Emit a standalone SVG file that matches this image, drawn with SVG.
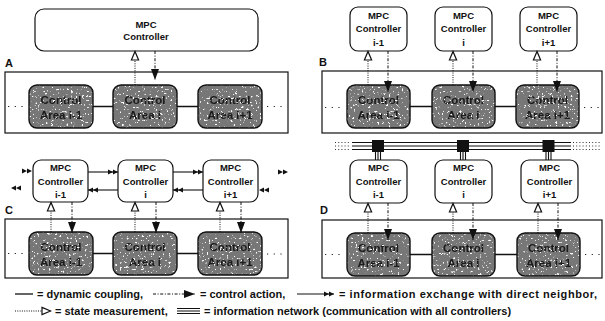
<svg xmlns="http://www.w3.org/2000/svg" width="605" height="321" viewBox="0 0 605 321">
  <style>
    text { font-family: "Liberation Sans", Arial, sans-serif; font-weight: bold; fill: #111; }
    .ctrl rect { fill: #fff; stroke: #111; stroke-width: 1.2; }
    .ctrl text { font-size: 9.5px; text-anchor: middle; }
    .area-fill { fill: #777; }
    .area-edge { fill: none; stroke: #111; stroke-width: 1.4; }
    .area text { font-size: 11.5px; text-anchor: middle; fill: #1a1a1a; }
    .frame { fill: none; stroke: #111; stroke-width: 1.2; }
    .panel-label { font-size: 11px; }
    .couple { stroke: #111; stroke-width: 1.3; fill: none; }
    .dots { stroke: #222; stroke-width: 1.2; stroke-dasharray: 1.2 5.5; fill: none; }
    .meas { stroke: #111; stroke-width: 1; stroke-dasharray: 1 1.3; fill: none; marker-end: url(#m-meas); }
    .act { stroke: #111; stroke-width: 1; stroke-dasharray: 3 1.6 1 1.6; fill: none; marker-end: url(#m-act); }
    .xchg { stroke: #111; stroke-width: 1.1; fill: none; marker-end: url(#m-dbl); }
    .net { stroke: #111; stroke-width: 1.1; fill: none; }
    .net-dot { stroke: #333; stroke-width: 1.1; stroke-dasharray: 1 2.2; fill: none; }
    .legend { font-size: 11px; }
  </style>
  <defs>
    <marker id="m-act" markerUnits="userSpaceOnUse" viewBox="0 -5 12 10" markerWidth="12" markerHeight="10" refX="11" refY="0" orient="auto">
      <path d="M0,-4 L11,0 L0,4 Z" fill="#111"/>
    </marker>
    <marker id="m-meas" markerUnits="userSpaceOnUse" viewBox="0 -5 11 10" markerWidth="11" markerHeight="10" refX="10" refY="0" orient="auto">
      <path d="M1,-3.6 L9.6,0 L1,3.6 Z" fill="#fff" stroke="#111" stroke-width="1.2"/>
    </marker>
    <marker id="m-dbl" markerUnits="userSpaceOnUse" viewBox="0 -3 10 6" markerWidth="10" markerHeight="6" refX="10" refY="0" orient="auto">
      <path d="M0,-2.6 L5,0 L0,2.6 Z M5,-2.6 L10,0 L5,2.6 Z" fill="#111"/>
    </marker>
    <path id="dbl" d="M-10,-2.6 L-5,0 L-10,2.6 Z M-5,-2.6 L0,0 L-5,2.6 Z" fill="#111"/>
    <!-- white speckle texture for the control-area blocks -->
    <filter id="grain" x="0" y="0" width="1" height="1">
      <feTurbulence type="fractalNoise" baseFrequency="0.45" numOctaves="2" seed="11" result="noise"/>
      <feColorMatrix in="noise" type="matrix" values="0 0 0 0 1  0 0 0 0 1  0 0 0 0 1  10 0 0 0 -6.5" result="spots"/>
      <feComposite in="spots" in2="SourceAlpha" operator="in" result="clipped"/>
      <feMerge><feMergeNode in="SourceGraphic"/><feMergeNode in="clipped"/></feMerge>
    </filter>
  </defs>

  <!-- ===== Panel A: centralized ===== -->
  <text class="panel-label" x="5" y="67">A</text>
  <rect class="frame" x="5" y="72" width="283" height="61"/>
  <g id="a-ctrl" class="ctrl">
    <rect x="35" y="9" width="223" height="42" rx="9"/>
    <text x="146" y="28">MPC</text>
    <text x="146" y="40">Controller</text>
  </g>
  <g id="a-area-im1" class="area">
    <g filter="url(#grain)"><rect class="area-fill" x="29" y="85" width="64" height="43" rx="8"/><text x="61" y="104">Control</text><text x="61" y="119">Area i-1</text></g>
    <rect class="area-edge" x="29" y="85" width="64" height="43" rx="8"/>
  </g>
  <g id="a-area-i" class="area">
    <g filter="url(#grain)"><rect class="area-fill" x="113" y="85" width="64" height="43" rx="8"/><text x="145" y="104">Control</text><text x="145" y="119">Area i</text></g>
    <rect class="area-edge" x="113" y="85" width="64" height="43" rx="8"/>
  </g>
  <g id="a-area-ip1" class="area">
    <g filter="url(#grain)"><rect class="area-fill" x="198" y="85" width="64" height="43" rx="8"/><text x="230" y="104">Control</text><text x="230" y="119">Area i+1</text></g>
    <rect class="area-edge" x="198" y="85" width="64" height="43" rx="8"/>
  </g>

  <!-- ===== Panel B: decentralized ===== -->
  <text class="panel-label" x="319" y="66">B</text>
  <rect class="frame" x="322" y="71" width="280" height="62"/>
  <g id="b-ctrl-im1" class="ctrl">
    <rect x="350" y="7" width="57" height="44" rx="8"/>
    <text x="378.5" y="18.5">MPC</text><text x="378.5" y="32">Controller</text><text x="378.5" y="46">i-1</text>
  </g>
  <g id="b-ctrl-i" class="ctrl">
    <rect x="435" y="7" width="57" height="44" rx="8"/>
    <text x="463.5" y="18.5">MPC</text><text x="463.5" y="32">Controller</text><text x="463.5" y="46">i</text>
  </g>
  <g id="b-ctrl-ip1" class="ctrl">
    <rect x="520" y="7" width="57" height="44" rx="8"/>
    <text x="548.5" y="18.5">MPC</text><text x="548.5" y="32">Controller</text><text x="548.5" y="46">i+1</text>
  </g>
  <g id="b-area-im1" class="area">
    <g filter="url(#grain)"><rect class="area-fill" x="347" y="85" width="63" height="43" rx="8"/><text x="378.5" y="104">Control</text><text x="378.5" y="119">Area i-1</text></g>
    <rect class="area-edge" x="347" y="85" width="63" height="43" rx="8"/>
  </g>
  <g id="b-area-i" class="area">
    <g filter="url(#grain)"><rect class="area-fill" x="432" y="85" width="63" height="43" rx="8"/><text x="463.5" y="104">Control</text><text x="463.5" y="119">Area i</text></g>
    <rect class="area-edge" x="432" y="85" width="63" height="43" rx="8"/>
  </g>
  <g id="b-area-ip1" class="area">
    <g filter="url(#grain)"><rect class="area-fill" x="516" y="85" width="63" height="43" rx="8"/><text x="547.5" y="104">Control</text><text x="547.5" y="119">Area i+1</text></g>
    <rect class="area-edge" x="516" y="85" width="63" height="43" rx="8"/>
  </g>

  <!-- ===== Panel C: neighbour communication ===== -->
  <text class="panel-label" x="5" y="214">C</text>
  <rect class="frame" x="5" y="219" width="283" height="59"/>
  <g id="c-ctrl-im1" class="ctrl">
    <rect x="33" y="160" width="55" height="42" rx="8"/>
    <text x="60.5" y="171">MPC</text><text x="60.5" y="184.5">Controller</text><text x="60.5" y="198">i-1</text>
  </g>
  <g id="c-ctrl-i" class="ctrl">
    <rect x="118" y="160" width="55" height="42" rx="8"/>
    <text x="145.5" y="171">MPC</text><text x="145.5" y="184.5">Controller</text><text x="145.5" y="198">i</text>
  </g>
  <g id="c-ctrl-ip1" class="ctrl">
    <rect x="203" y="160" width="55" height="42" rx="8"/>
    <text x="230.5" y="171">MPC</text><text x="230.5" y="184.5">Controller</text><text x="230.5" y="198">i+1</text>
  </g>
  <g id="c-area-im1" class="area">
    <g filter="url(#grain)"><rect class="area-fill" x="29" y="232" width="64" height="43" rx="8"/><text x="61" y="251">Control</text><text x="61" y="266">Area i-1</text></g>
    <rect class="area-edge" x="29" y="232" width="64" height="43" rx="8"/>
  </g>
  <g id="c-area-i" class="area">
    <g filter="url(#grain)"><rect class="area-fill" x="113" y="232" width="64" height="43" rx="8"/><text x="145" y="251">Control</text><text x="145" y="266">Area i</text></g>
    <rect class="area-edge" x="113" y="232" width="64" height="43" rx="8"/>
  </g>
  <g id="c-area-ip1" class="area">
    <g filter="url(#grain)"><rect class="area-fill" x="198" y="232" width="64" height="43" rx="8"/><text x="230" y="251">Control</text><text x="230" y="266">Area i+1</text></g>
    <rect class="area-edge" x="198" y="232" width="64" height="43" rx="8"/>
  </g>

  <!-- ===== Panel D: network communication ===== -->
  <text class="panel-label" x="320" y="214">D</text>
  <rect class="frame" x="322" y="220" width="280" height="58"/>
  <g id="d-ctrl-im1" class="ctrl">
    <rect x="350" y="160" width="57" height="43" rx="8"/>
    <text x="378.5" y="171">MPC</text><text x="378.5" y="184.5">Controller</text><text x="378.5" y="198">i-1</text>
  </g>
  <g id="d-ctrl-i" class="ctrl">
    <rect x="435" y="160" width="57" height="43" rx="8"/>
    <text x="463.5" y="171">MPC</text><text x="463.5" y="184.5">Controller</text><text x="463.5" y="198">i</text>
  </g>
  <g id="d-ctrl-ip1" class="ctrl">
    <rect x="521" y="160" width="57" height="43" rx="8"/>
    <text x="549.5" y="171">MPC</text><text x="549.5" y="184.5">Controller</text><text x="549.5" y="198">i+1</text>
  </g>
  <g id="d-area-im1" class="area">
    <g filter="url(#grain)"><rect class="area-fill" x="347" y="233" width="63" height="43" rx="8"/><text x="378.5" y="252">Control</text><text x="378.5" y="267">Area i-1</text></g>
    <rect class="area-edge" x="347" y="233" width="63" height="43" rx="8"/>
  </g>
  <g id="d-area-i" class="area">
    <g filter="url(#grain)"><rect class="area-fill" x="432" y="233" width="63" height="43" rx="8"/><text x="463.5" y="252">Control</text><text x="463.5" y="267">Area i</text></g>
    <rect class="area-edge" x="432" y="233" width="63" height="43" rx="8"/>
  </g>
  <g id="d-area-ip1" class="area">
    <g filter="url(#grain)"><rect class="area-fill" x="517" y="233" width="63" height="43" rx="8"/><text x="548.5" y="252">Control</text><text x="548.5" y="267">Area i+1</text></g>
    <rect class="area-edge" x="517" y="233" width="63" height="43" rx="8"/>
  </g>

  <!-- information network bus -->
  <g id="network">
    <path class="net" d="M352,142.5 H571 M352,146 H571 M352,149.5 H571"/>
    <path class="net-dot" d="M335,142.5 H351 M335,146 H351 M335,149.5 H351 M573,142.5 H600 M573,146 H600 M573,149.5 H600"/>
    <path class="net" d="M375.5,152 V160 M378,152 V160 M380.5,152 V160 M460.5,152 V160 M463,152 V160 M465.5,152 V160 M546,152 V160 M548.5,152 V160 M551,152 V160"/>
    <rect x="372" y="140" width="12" height="12" fill="#111"/>
    <rect x="457" y="140" width="12" height="12" fill="#111"/>
    <rect x="542.5" y="140" width="12" height="12" fill="#111"/>
  </g>

  <!-- connectors -->
  <g id="connectors">
    <!-- dynamic coupling between neighbouring areas -->
    <path class="couple" d="M93,106.5 H113 M177,106.5 H198 M410,106.5 H432 M495,106.5 H516 M93,253.5 H113 M177,253.5 H198 M410,254.5 H432 M495,254.5 H517"/>
    <path class="dots" d="M8,106.5 H24 M267,106.5 H287 M325,107.5 H342 M584,107.5 H601 M8,253.5 H24 M267,254 H287 M325,254.5 H342 M585,254.5 H601"/>

    <!-- A: single controller -->
    <path class="meas" d="M135,85 V51"/>
    <path class="act" d="M155,51 V80"/>

    <!-- B -->
    <path class="meas" d="M368,85 V51"/>
    <path class="act" d="M388,51 V92"/>
    <path class="meas" d="M453,85 V51"/>
    <path class="act" d="M473,51 V92"/>
    <path class="meas" d="M537,85 V51"/>
    <path class="act" d="M557,51 V92"/>

    <!-- C -->
    <path class="meas" d="M51,232 V202"/>
    <path class="act" d="M72,202 V233"/>
    <path class="meas" d="M135,232 V202"/>
    <path class="act" d="M156,202 V233"/>
    <path class="meas" d="M220,232 V202"/>
    <path class="act" d="M241,202 V233"/>
    <path class="xchg" d="M88,172 H118"/>
    <path class="xchg" d="M173,172 H203"/>
    <path class="xchg" d="M118,190 H88"/>
    <path class="xchg" d="M203,190 H173"/>
    <use href="#dbl" transform="translate(32,171)"/>
    <use href="#dbl" transform="translate(11,188) scale(-1,1)"/>
    <use href="#dbl" transform="translate(288,172)"/>
    <use href="#dbl" transform="translate(259,190) scale(-1,1)"/>

    <!-- D -->
    <path class="meas" d="M368,233 V203"/>
    <path class="act" d="M388,203 V240"/>
    <path class="meas" d="M453,233 V203"/>
    <path class="act" d="M473,203 V240"/>
    <path class="meas" d="M538,233 V203"/>
    <path class="act" d="M558,203 V240"/>
  </g>

  <!-- legend -->
  <g id="legend">
    <path class="couple" d="M15,294 H33"/>
    <text class="legend" x="37" y="298">= dynamic coupling,</text>
    <path class="act" d="M153,294 H195"/>
    <text class="legend" x="200" y="298">= control action,</text>
    <path class="xchg" d="M297,294 H334"/>
    <text class="legend" x="339" y="298" textLength="258" lengthAdjust="spacing">= information exchange with direct neighbor,</text>
    <path class="meas" d="M15,311 H51"/>
    <text class="legend" x="55" y="315">= state measurement,</text>
    <path class="net" d="M177,308.5 H200 M177,311 H200 M177,313.5 H200"/>
    <text class="legend" x="204" y="315">= information network (communication with all controllers)</text>
  </g>
</svg>
